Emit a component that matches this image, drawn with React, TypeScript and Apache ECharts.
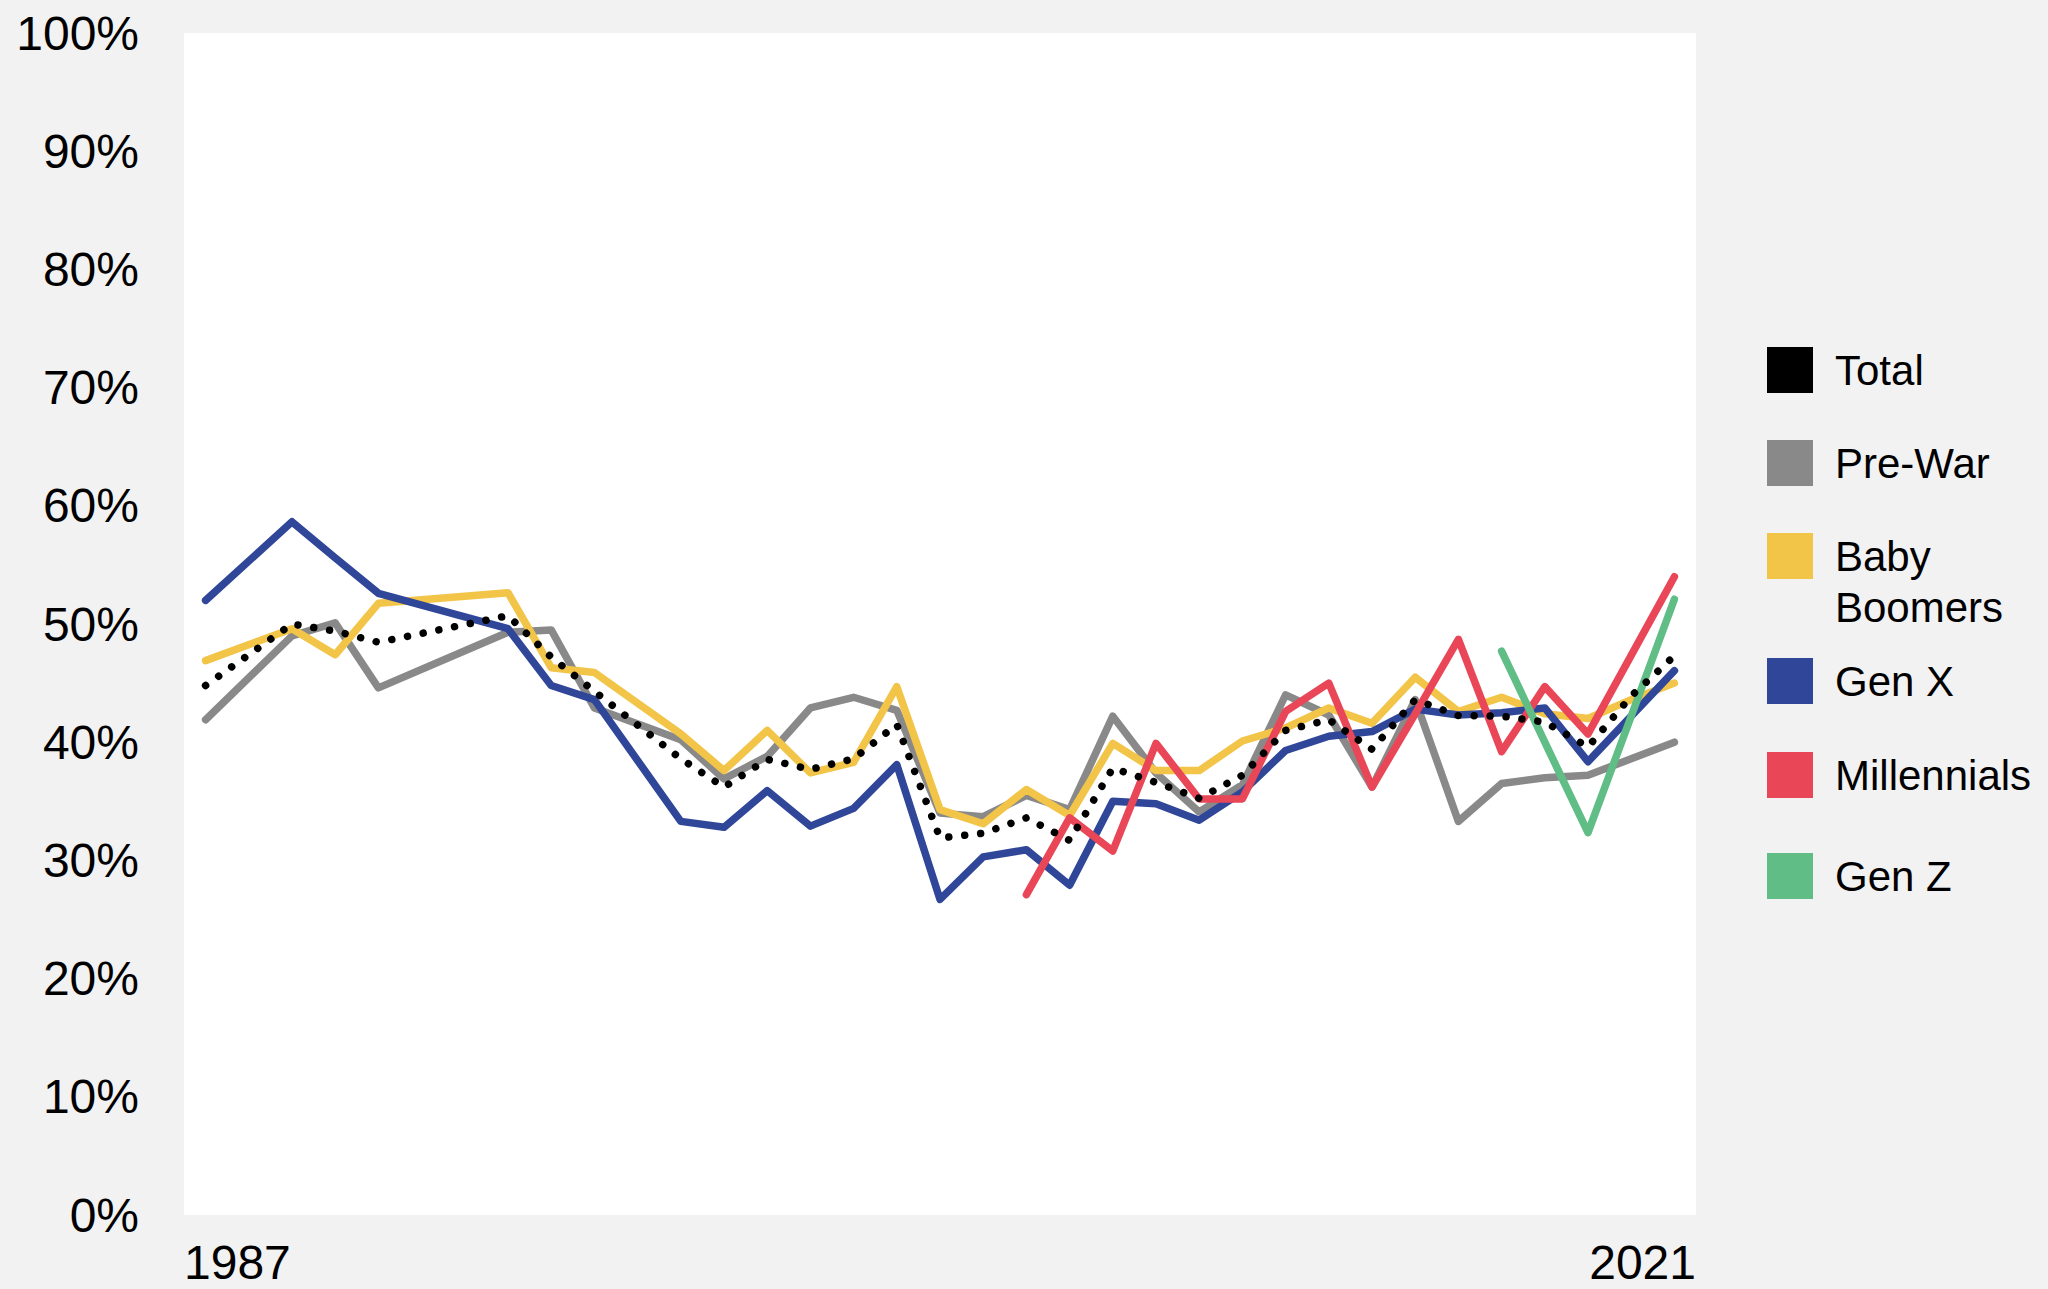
import React, { useEffect, useRef } from 'react';
import * as echarts from 'echarts';

const years = [1987, 1989, 1990, 1991, 1994, 1995, 1996, 1998, 1999, 2000, 2001, 2002, 2003, 2004, 2005, 2006, 2007, 2008, 2009, 2010, 2011, 2012, 2013, 2014, 2015, 2016, 2017, 2018, 2019, 2020, 2021];

const total = [44.8, 50.0, 49.4, 48.45, 50.7, 47.2, 44.3, 38.6, 36.2, 38.55, 37.7, 38.6, 41.5, 31.9, 32.3, 33.6, 31.7, 37.8, 36.6, 35.25, 37.2, 41.0, 41.9, 39.4, 43.6, 42.25, 42.2, 41.7, 39.6, 43.9, 47.3];
const preWar = [41.9, 49.0, 50.1, 44.6, 49.3, 49.5, 42.9, 40.2, 36.9, 38.8, 42.9, 43.8, 42.7, 34.0, 33.7, 35.5, 34.3, 42.2, 37.4, 34.1, 36.4, 44.0, 42.3, 36.2, 43.6, 33.3, 36.5, 37.0, 37.2, 38.6, 40.0];
const babyBoomers = [46.9, 49.6, 47.4, 51.75, 52.65, 46.3, 45.9, 40.7, 37.6, 41.0, 37.4, 38.3, 44.7, 34.3, 33.1, 36.0, 33.8, 39.9, 37.6, 37.6, 40.1, 41.2, 42.9, 41.6, 45.5, 42.6, 43.8, 42.4, 42.0, 43.6, 45.0];
const genX = [52.0, 58.65, 55.6, 52.6, 49.6, 44.8, 43.6, 33.3, 32.8, 35.9, 32.9, 34.4, 38.1, 26.7, 30.3, 30.9, 27.9, 35.0, 34.8, 33.4, 35.8, 39.3, 40.5, 40.9, 42.8, 42.3, 42.5, 42.9, 38.35, 42.2, 46.05];
const millennials = [null, null, null, null, null, null, null, null, null, null, null, null, null, null, null, 27.1, 33.6, 30.8, 39.9, 35.2, 35.2, 42.6, 45.0, 36.2, 42.4, 48.7, 39.2, 44.7, 40.7, 47.35, 54.0];
const genZ = [null, null, null, null, null, null, null, null, null, null, null, null, null, null, null, null, null, null, null, null, null, null, null, null, null, null, 47.7, 40.0, 32.35, 42.2, 52.1];

const xTickLabels = ['1987', '2021'];
const legendNames = ['Total', 'Pre-War', 'Baby\nBoomers', 'Gen X', 'Millennials', 'Gen Z'];
const colors = ['#000000', '#898989', '#f2c447', '#2f4699', '#e94657', '#5fbd85'];

const FONT = '"Liberation Sans", Arial, Helvetica, sans-serif';
const LINE_W = 7.5;

function toData(arr: (number | null)[]) {
  const out: [number, number][] = [];
  arr.forEach((v, i) => {
    if (v !== null && v !== undefined) out.push([years[i], v]);
  });
  return out;
}

export default function App() {
  const ref = useRef<HTMLDivElement>(null);
  useEffect(() => {
    if (!ref.current) return;
    const chart = echarts.init(ref.current, null, { renderer: 'svg' });

    const legendTops = [347, 440, 533, 658, 752, 853];
    const graphics: any[] = [];
    legendNames.forEach((name, i) => {
      graphics.push({
        type: 'rect',
        shape: { x: 1767, y: legendTops[i], width: 46, height: 46 },
        style: { fill: colors[i] },
        silent: true,
      });
      const multi = name.indexOf('\n') >= 0;
      graphics.push({
        type: 'text',
        x: 1835,
        y: multi ? legendTops[i] + 23 - 25.5 : legendTops[i] + 23,
        style: {
          text: name,
          fill: '#000',
          font: `42px ${FONT}`,
          fontSize: 42,
          fontFamily: FONT,
          lineHeight: multi ? 51 : 46,
          verticalAlign: multi ? 'top' : 'middle',
          align: 'left',
        },
        silent: true,
      });
    });

    const lineSeries = (name: string, arr: (number | null)[], color: string) => ({
      type: 'line',
      name,
      data: toData(arr),
      xAxisIndex: 0,
      symbol: 'none',
      silent: true,
      lineStyle: { color, width: LINE_W, cap: 'round', join: 'round' },
    });

    chart.setOption({
      animation: false,
      backgroundColor: '#f2f2f2',
      textStyle: { fontFamily: FONT },
      grid: {
        left: 184,
        top: 33,
        right: 352,
        bottom: 74,
        show: true,
        backgroundColor: '#ffffff',
        borderWidth: 0,
        containLabel: false,
      },
      xAxis: [
        {
          type: 'value',
          min: 1986.5,
          max: 2021.5,
          show: false,
        },
        {
          type: 'value',
          min: 0,
          max: 1,
          interval: 1,
          position: 'bottom',
          axisLine: { show: false },
          axisTick: { show: false },
          splitLine: { show: false },
          axisLabel: {
            show: true,
            margin: 23,
            fontSize: 48,
            color: '#000',
            fontFamily: FONT,
            formatter: (v: number) => (v < 0.5 ? xTickLabels[0] : xTickLabels[1]),
            alignMinLabel: 'left',
            alignMaxLabel: 'right',
            showMinLabel: true,
            showMaxLabel: true,
          },
        },
      ],
      yAxis: {
        type: 'value',
        min: 0,
        max: 100,
        interval: 10,
        axisLine: { show: false },
        axisTick: { show: false },
        splitLine: { show: false },
        axisLabel: {
          margin: 45,
          fontSize: 48,
          color: '#000',
          fontFamily: FONT,
          formatter: '{value}%',
        },
      },
      graphic: graphics,
      series: [
        lineSeries('Pre-War', preWar, colors[1]),
        lineSeries('Baby Boomers', babyBoomers, colors[2]),
        lineSeries('Gen X', genX, colors[3]),
        lineSeries('Millennials', millennials, colors[4]),
        lineSeries('Gen Z', genZ, colors[5]),
        {
          type: 'line',
          name: 'Total',
          data: toData(total),
          xAxisIndex: 0,
          symbol: 'none',
          silent: true,
          lineStyle: { color: '#000', width: 7.5, type: [0.01, 16], cap: 'round', join: 'round' },
        },
      ],
    });
    return () => chart.dispose();
  }, []);

  return (
    <div
      ref={ref}
      style={{ position: 'fixed', left: 0, top: 0, width: 2048, height: 1289, background: '#f2f2f2' }}
    />
  );
}
